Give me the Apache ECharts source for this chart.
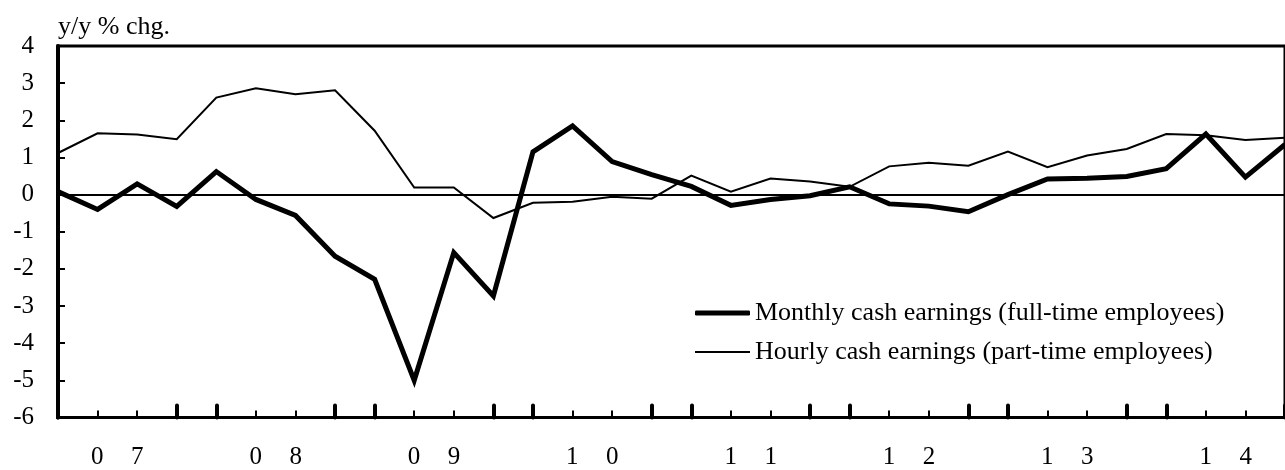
<!DOCTYPE html>
<html>
<head>
<meta charset="utf-8">
<script src="https://cdn.jsdelivr.net/npm/echarts@6/dist/echarts.min.js"></script>
<style>
  html, body { margin: 0; padding: 0; background: #fff; }
  #chart { width: 1285px; height: 470px; }
</style>
</head>
<body>
<div id="chart"></div>
<script>
// Year labels (one per year, four quarters each)
const years = ['07', '08', '09', '10', '11', '12', '13', '14'];

// Monthly cash earnings, full-time employees (y/y % chg., quarterly)
const monthly = [
  0.08, -0.40, 0.29, -0.32, 0.62, -0.13, -0.56, -1.66,
  -2.28, -5.00, -1.56, -2.73, 1.15, 1.85, 0.89, 0.54,
  0.22, -0.29, -0.13, -0.03, 0.21, -0.25, -0.31, -0.46,
  0.00, 0.42, 0.44, 0.49, 0.70, 1.63, 0.47, 1.35
];

// Hourly cash earnings, part-time employees (y/y % chg., quarterly)
const hourly = [
  1.12, 1.65, 1.62, 1.49, 2.61, 2.86, 2.70, 2.81,
  1.72, 0.19, 0.19, -0.63, -0.22, -0.19, -0.06, -0.11,
  0.51, 0.08, 0.43, 0.35, 0.21, 0.76, 0.86, 0.78,
  1.16, 0.74, 1.05, 1.23, 1.63, 1.60, 1.47, 1.53
];

const yTicks = { min: -6, max: 4, step: 1 };

const seriesNames = [
  'Monthly cash earnings (full-time employees)',
  'Hourly cash earnings (part-time employees)'
];

// Quarter categories built from the year list
const quarters = [];
years.forEach(y => { for (let q = 1; q <= 4; q++) quarters.push(y + 'Q' + q); });

// Bands between consecutive quarters; the year label sits in the middle band of each year
const bands = [];
for (let i = 0; i < quarters.length - 1; i++) {
  bands.push(i % 4 === 1 ? years[(i - 1) / 4] : '');
}

const FONT = 'Liberation Serif';
const legendText = { fontFamily: FONT, fontSize: 26, color: '#000', lineHeight: 30 };
const chart = echarts.init(document.getElementById('chart'), null, { renderer: 'canvas' });

chart.setOption({
  animation: false,
  backgroundColor: '#fff',
  textStyle: { fontFamily: FONT, color: '#000' },
  grid: {
    left: 58, top: 46, width: 1236, height: 373,
    show: true, borderColor: '#000', borderWidth: 3, backgroundColor: 'transparent'
  },
  // one legend per series so each key line keeps its own thickness
  legend: [
    {
      orient: 'vertical', left: 695, top: 298, padding: 0,
      itemWidth: 55, itemHeight: 5, icon: 'roundRect',
      textStyle: legendText, data: [seriesNames[0]]
    },
    {
      orient: 'vertical', left: 695, top: 337, padding: 0,
      itemWidth: 55, itemHeight: 2, icon: 'rect',
      textStyle: legendText, data: [seriesNames[1]]
    }
  ],
  xAxis: [
    {
      type: 'category', data: quarters, boundaryGap: false, position: 'bottom',
      axisLine: { show: true, onZero: false, lineStyle: { color: '#000', width: 3 } },
      axisTick: {
        show: true, inside: true, length: 7,
        interval: (i) => i % 4 === 1 || i % 4 === 2,
        lineStyle: { color: '#000', width: 2 }
      },
      axisLabel: { show: false },
      splitLine: { show: false }
    },
    {
      type: 'category', data: quarters, boundaryGap: false, position: 'bottom',
      axisLine: { show: false, onZero: false },
      axisTick: {
        show: true, inside: true, length: 12,
        interval: (i) => i % 4 === 0 || i % 4 === 3,
        lineStyle: { color: '#000', width: 4, cap: 'round' }
      },
      axisLabel: { show: false },
      splitLine: { show: false }
    },
    {
      type: 'category', data: bands, boundaryGap: true, position: 'bottom',
      axisLine: { show: false, onZero: false },
      axisTick: { show: false },
      splitLine: { show: false },
      axisLabel: {
        show: true, interval: 0, margin: 27,
        formatter: (v) => v ? v.split('').map(c => '{d|' + c + '}').join('') : '',
        rich: {
          d: { width: 40, align: 'center', fontFamily: FONT, fontSize: 25, color: '#000', lineHeight: 26 }
        }
      }
    }
  ],
  yAxis: {
    type: 'value', min: yTicks.min, max: yTicks.max, interval: yTicks.step,
    name: 'y/y % chg.', nameLocation: 'end', nameGap: 19,
    nameTextStyle: { fontFamily: FONT, fontSize: 26, color: '#000', align: 'left', verticalAlign: 'middle' },
    axisLine: { show: true, lineStyle: { color: '#000', width: 4 } },
    axisTick: { show: true, inside: true, length: 7, lineStyle: { color: '#000', width: 2 } },
    axisLabel: { fontFamily: FONT, fontSize: 25, color: '#000', margin: 24 },
    splitLine: { show: false }
  },
  series: [
    {
      name: seriesNames[0], type: 'line', xAxisIndex: 0, data: monthly,
      symbol: 'none', smooth: false,
      lineStyle: { color: '#000', width: 5, join: 'miter', miterLimit: 4 },
      itemStyle: { color: '#000' },
      z: 4
    },
    {
      name: seriesNames[1], type: 'line', xAxisIndex: 0, data: hourly,
      symbol: 'none', smooth: false,
      lineStyle: { color: '#000', width: 2, join: 'miter' },
      itemStyle: { color: '#000' },
      z: 3,
      markLine: {
        silent: true, symbol: 'none', label: { show: false },
        lineStyle: { color: '#000', width: 2, type: 'solid' },
        data: [{ yAxis: 0 }]
      }
    }
  ]
});
</script>
</body>
</html>
